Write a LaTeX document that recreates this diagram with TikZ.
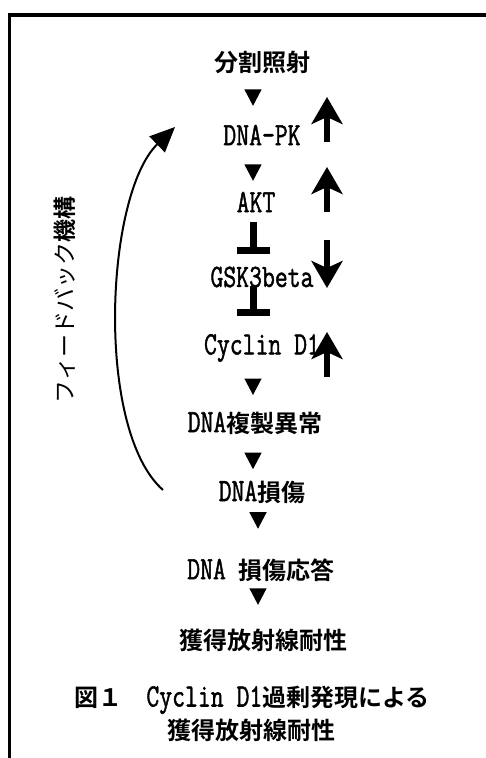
\documentclass[tikz,border=0pt]{standalone}
\usepackage{fontspec}
\usetikzlibrary{arrows.meta,shapes.geometric}
\newfontfamily\cjkfont{Noto Sans CJK JP}[BoldFont={Noto Sans CJK JP Bold}]
\newfontfamily\monofont{Latin Modern Mono}[FakeBold=1.6]
\newcommand\jp[1]{{\cjkfont\bfseries\fontsize{24}{24}\selectfont #1}}
\newcommand\latn[1]{\scalebox{1}[1.3]{\fontsize{25}{25}\selectfont\monofont #1}}
\tikzset{
  lbl/.style={inner sep=0pt, anchor=center},
  tri/.style={regular polygon, regular polygon sides=3, shape border rotate=180,
              fill=black, draw=none, inner sep=0pt, minimum size=20pt, yscale=1.1},
  inh/.style={line width=7pt, -{Bar[width=33pt]}},
  big/.style={line width=6.5pt, -{Stealth[length=27pt,width=31pt,inset=7pt]}},
  fb/.style={line width=2pt, -{Triangle[length=25pt,width=22pt]}},
  frame/.style={line width=3.5pt}
}
\begin{document}
\begin{tikzpicture}[x=1pt,y=-1pt]
\useasboundingbox (0,0) rectangle (486,758);
% frame
\draw[frame] (490,15) -- (9.5,15) -- (9.5,762);
% helper coordinates
\coordinate (ax) at (253,0);
\coordinate (bx) at (258,0);
% nodes
\node[lbl] (n0) at (262,62)  {\jp{分割照射}};
\node[lbl] (n1) at (262,135) {\latn{DNA-PK}};
\node[lbl] (n2) at (256,202) {\latn{AKT}};
\node[lbl] (n3) at (262,277) {\latn{GSK3beta}};
\node[lbl] (n4) at (262,348) {\latn{Cyclin D1}};
\node[lbl] (n5) at (255,423) {\latn{DNA}\jp{複製異常}};
\node[lbl] (n6) at (262,492) {\latn{DNA}\jp{損傷}};
\node[lbl] (n7) at (261,570) {\latn{DNA }\jp{損傷応答}};
\node[lbl] (n8) at (263,640) {\jp{獲得放射線耐性}};
\node[lbl] (c1) at (252,700) {\jp{図１　}\latn{Cyclin D1}\jp{過剰発現による}};
\node[lbl] (c2) at (251,730) {\jp{獲得放射線耐性}};
\node[lbl, rotate=90] (fbt) at (65,300) {{\cjkfont\fontsize{23}{23}\selectfont フィードバック{\bfseries 機構}}};
% triangle connectors
\path (n0 -| ax) -- (n1 -| ax) node[tri, pos=0.45] (t1) {};
\path (n1 -| ax) -- (n2 -| ax) node[tri, pos=0.52] (t2) {};
\path (n4 -| ax) -- (n5 -| ax) node[tri, pos=0.48] (t3) {};
\path (n5 -| ax) -- (n6 -| ax) node[tri, pos=0.51] (t4) {};
\path (n6 -| bx) -- (n7 -| bx) node[tri, pos=0.33] (t5) {};
\path (n7 -| bx) -- (n8 -| bx) node[tri, pos=0.34] (t6) {};
% inhibition
\draw[inh, shorten <=20pt, shorten >=23pt] (n2 -| ax) -- (n3 -| ax);
\draw[inh, shorten <=9pt, shorten >=32pt] (n3 -| ax) -- (n4 -| ax);
% regulation arrows
\coordinate (u1a) at (327,142); \coordinate (u1b) at (327,97);
\coordinate (u2a) at (327,212); \coordinate (u2b) at (327,167);
\coordinate (d3a) at (327,240); \coordinate (d3b) at (327,288);
\coordinate (u4a) at (327,377); \coordinate (u4b) at (327,332);
\draw[big] (u1a) -- (u1b);
\draw[big] (u2a) -- (u2b);
\draw[big] (d3a) -- (d3b);
\draw[big] (u4a) -- (u4b);
% feedback arc
\coordinate (fbs) at (163,490);
\coordinate (fbe) at (175,127);
\draw[fb] (fbs) .. controls (95,430) and (105,195) .. (fbe);
\end{tikzpicture}
\end{document}
